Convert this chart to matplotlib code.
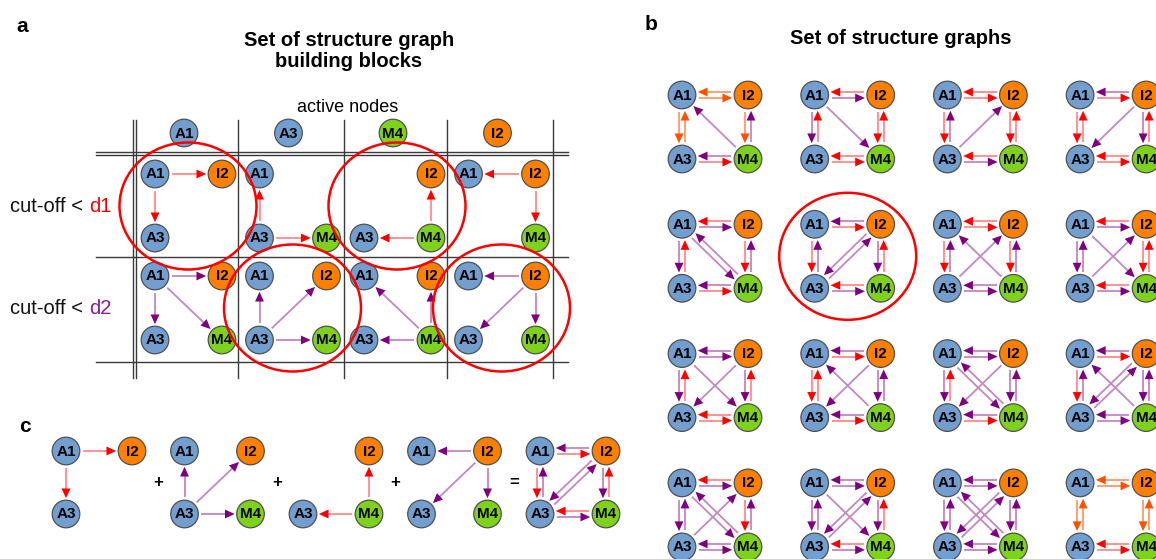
import numpy as np
import matplotlib.pyplot as plt
from matplotlib.patches import Ellipse, FancyArrowPatch

plt.rcParams['font.family'] = ['Liberation Sans', 'DejaVu Sans']

# node names and their slot inside a 2x2 block (column, row)
node_names = ["A1", "I2", "A3", "M4"]
node_col = [0, 1, 0, 1]
node_row = [0, 0, 1, 1]

# panel a: building blocks for each active node and cut-off
active_nodes = ["A1", "A3", "M4", "I2"]
cutoffs = ["d1", "d2"]
blocks_d1 = [
    ["A1>I2 r", "A1>A3 r"],
    ["A3>A1 r", "A3>M4 r"],
    ["M4>I2 r", "M4>A3 r"],
    ["I2>A1 r", "I2>M4 r"],
]
blocks_d2 = [
    ["A1>I2 p", "A1>A3 p", "A1>M4 p"],
    ["A3>A1 p", "A3>I2 p", "A3>M4 p"],
    ["M4>A1 p", "M4>I2 p", "M4>A3 p"],
    ["I2>A1 p", "I2>A3 p", "I2>M4 p"],
]
blocks_circled = [(0, 0), (1, 1), (0, 2), (1, 3)]

# panel b: set of structure graphs (row by row)
graphs = [
    ["I2>A1 o", "A1>I2 o", "A1>A3 o", "A3>A1 o", "I2>M4 o", "M4>I2 p", "M4>A3 p", "A3>M4 r", "M4>A1 p"],
    ["I2>A1 r", "A1>I2 p", "A1>A3 p", "A3>A1 r", "I2>M4 r", "M4>I2 r", "M4>A3 r", "A3>M4 r", "A1>M4 p"],
    ["I2>A1 r", "A1>I2 r", "A1>A3 r", "A3>A1 p", "I2>M4 r", "M4>I2 r", "M4>A3 r", "A3>M4 p", "A3>I2 p"],
    ["I2>A1 p", "A1>I2 r", "A1>A3 r", "A3>A1 r", "I2>M4 p", "M4>I2 r", "M4>A3 r", "A3>M4 r", "I2>A3 p"],
    ["I2>A1 r", "A1>I2 p", "A1>A3 p", "A3>A1 r", "I2>M4 r", "M4>I2 p", "M4>A3 p", "A3>M4 r", "M4>A1 p", "A1>M4 p"],
    ["I2>A1 p", "A1>I2 r", "A1>A3 r", "A3>A1 p", "I2>M4 p", "M4>I2 r", "M4>A3 r", "A3>M4 p", "I2>A3 p", "A3>I2 p"],
    ["I2>A1 r", "A1>I2 r", "A1>A3 r", "A3>A1 p", "I2>M4 r", "M4>I2 p", "M4>A3 p", "A3>M4 p", "A3>I2 p", "M4>A1 p"],
    ["I2>A1 r", "A1>I2 p", "A1>A3 p", "A3>A1 p", "I2>M4 r", "M4>I2 r", "M4>A3 r", "A3>M4 p", "A1>M4 p", "A3>I2 p"],
    ["I2>A1 p", "A1>I2 p", "A1>A3 p", "A3>A1 r", "I2>M4 p", "M4>I2 r", "M4>A3 r", "A3>M4 r", "A1>M4 p", "I2>A3 p"],
    ["I2>A1 p", "A1>I2 r", "A1>A3 r", "A3>A1 r", "I2>M4 p", "M4>I2 p", "M4>A3 p", "A3>M4 r", "M4>A1 p", "I2>A3 p"],
    ["I2>A1 p", "A1>I2 p", "A1>A3 p", "A3>A1 r", "I2>M4 p", "M4>I2 p", "M4>A3 p", "A3>M4 r", "M4>A1 p", "A1>M4 p", "I2>A3 p"],
    ["I2>A1 p", "A1>I2 r", "A1>A3 r", "A3>A1 p", "I2>M4 p", "M4>I2 p", "M4>A3 p", "A3>M4 p", "M4>A1 p", "I2>A3 p", "A3>I2 p"],
    ["I2>A1 r", "A1>I2 p", "A1>A3 p", "A3>A1 p", "I2>M4 r", "M4>I2 p", "M4>A3 p", "A3>M4 p", "M4>A1 p", "A1>M4 p", "A3>I2 p"],
    ["I2>A1 p", "A1>I2 p", "A1>A3 p", "A3>A1 p", "I2>M4 p", "M4>I2 r", "M4>A3 r", "A3>M4 p", "A1>M4 p", "I2>A3 p", "A3>I2 p"],
    ["I2>A1 p", "A1>I2 p", "A1>A3 p", "A3>A1 p", "I2>M4 p", "M4>I2 p", "M4>A3 p", "A3>M4 p", "M4>A1 p", "A1>M4 p", "I2>A3 p", "A3>I2 p"],
    ["I2>A1 o", "A1>I2 o", "A1>A3 o", "A3>A1 o", "I2>M4 o", "M4>I2 o", "M4>A3 r", "A3>M4 r"],
]
graphs_circled = [5]

# panel c: the circled blocks add up to the circled graph
sum_terms = [blocks_d1[0], blocks_d2[1], blocks_d1[2], blocks_d2[3], graphs[5]]
sum_ops = ["+", "+", "+", "="]

# ---------------------------------------------------------------
W, H = 1156, 559
fig = plt.figure(figsize=(W / 100, H / 100), dpi=100)
ax = fig.add_axes([0, 0, 1, 1])
ax.set_xlim(0, W)
ax.set_ylim(H, 0)
ax.axis('off')

fill = {"A": "#729fcf", "I": "#ff8000", "M": "#7ed21c"}
head_c = {"r": "#ff0000", "p": "#7f007f", "o": "#ff5000"}
shaft_c = {"r": "#ff8a8a", "p": "#c387c3", "o": "#ff9a66"}
R = 13.8


def node(x, y, name):
    ax.add_patch(Ellipse((x, y), 2 * R, 2 * R, fc=fill[name[0]], ec="#505050", lw=0.9, zorder=3))
    ax.text(x, y + 0.5, name, ha='center', va='center', fontsize=11,
            fontweight='bold', color='black', zorder=4)


def arrow(p, q, c, off):
    p = np.array(p, float)
    q = np.array(q, float)
    u = (q - p) / np.hypot(*(q - p))
    n = np.array([-u[1], u[0]])
    a = p + u * (R + 3) + n * off
    b = q - u * (R + 2) + n * off
    e = b - u * 6
    ax.plot([a[0], e[0]], [a[1], e[1]], color=shaft_c[c], lw=1.3,
            solid_capstyle='butt', zorder=2)
    ax.add_patch(FancyArrowPatch(b - u * 10, b, arrowstyle='-|>,head_length=0.7,head_width=0.32',
                                 mutation_scale=10, color=head_c[c], lw=0,
                                 shrinkA=0, shrinkB=0, zorder=2))


def graph(x0, y0, edges, dx=66, dy=64):
    pos = {nm: (x0 + cx * dx, y0 + cy * dy) for nm, cx, cy in zip(node_names, node_col, node_row)}
    parsed = []
    for e in edges:
        pair, c = e.split()
        s, t = pair.split(">")
        parsed.append((s, t, c))
    pairs = {(s, t) for s, t, c in parsed}
    used = set()
    for s, t, c in parsed:
        off = 3.0 if (t, s) in pairs else 0.0
        arrow(pos[s], pos[t], c, off)
        used.update([s, t])
    for nm in node_names:
        if nm in used:
            node(*pos[nm], nm)


# ---------------- panel a ----------------
ax.text(16, 27, "a", fontsize=15, fontweight='bold', ha='left', va='center')
ax.text(349, 51, "Set of structure graph\nbuilding blocks", fontsize=14.5, fontweight='bold',
        ha='center', va='center', linespacing=1.15)
ax.text(348, 107, "active nodes", fontsize=13, ha='center', va='center')

a_x0, a_dx, a_y0, a_dy = 155, 104.5, 174, 102
for j, nm in enumerate(active_nodes):
    node(a_x0 + 29 + j * a_dx, 133, nm)

for yy in [152, 155, 257, 362]:
    ax.plot([96, 568], [yy, yy], color='#3a3a3a', lw=1.0, zorder=1)
for xx in [133, 136, 238, 344, 447, 553]:
    ax.plot([xx, xx], [120, 378], color='#3a3a3a', lw=1.0, zorder=1)

row_cols = {"d1": "#ff0000", "d2": "#8b1a9b"}
for i, (lab, blocks) in enumerate(zip(cutoffs, [blocks_d1, blocks_d2])):
    yc = a_y0 + 32 + i * a_dy + i * 1
    t = ax.text(10, yc, "cut-off < ", fontsize=14.5, ha='left', va='center', color='#111111')
    ax.annotate(lab, xy=(1, 0), xycoords=t, ha='left', va='bottom', fontsize=14.5,
                color=row_cols[lab])
    for j, edges in enumerate(blocks):
        graph(a_x0 + j * a_dx, a_y0 + i * a_dy, edges, dx=67)

for i, j in blocks_circled:
    cx = a_x0 + j * a_dx + 33
    cy = a_y0 + i * a_dy + 32
    ax.add_patch(Ellipse((cx, cy), 137, 127, fc='none', ec='#ff0000', lw=1.8, zorder=5))

# ---------------- panel b ----------------
ax.text(645, 25, "b", fontsize=15, fontweight='bold', ha='left', va='center')
ax.text(901, 38, "Set of structure graphs", fontsize=14.5, fontweight='bold',
        ha='center', va='center')
b_x0, b_dx, b_y0, b_dy = 682, 132.7, 95, 129.3
for k, edges in enumerate(graphs):
    i, j = divmod(k, 4)
    graph(b_x0 + j * b_dx, b_y0 + i * b_dy, edges)
for k in graphs_circled:
    i, j = divmod(k, 4)
    ax.add_patch(Ellipse((b_x0 + j * b_dx + 33, b_y0 + i * b_dy + 32), 137, 127,
                         fc='none', ec='#ff0000', lw=1.8, zorder=5))

# ---------------- panel c ----------------
ax.text(19, 427, "c", fontsize=15, fontweight='bold', ha='left', va='center')
c_x0, c_dx, c_y0 = 66, 118.5, 451
for k, edges in enumerate(sum_terms):
    graph(c_x0 + k * c_dx, c_y0, edges, dy=63)
for k, op in enumerate(sum_ops):
    xm = (c_x0 + k * c_dx + 66 + c_x0 + (k + 1) * c_dx) / 2
    ax.text(xm, c_y0 + 31, op, fontsize=12, fontweight='bold', ha='center', va='center')

fig.savefig("out.png", dpi=100)
